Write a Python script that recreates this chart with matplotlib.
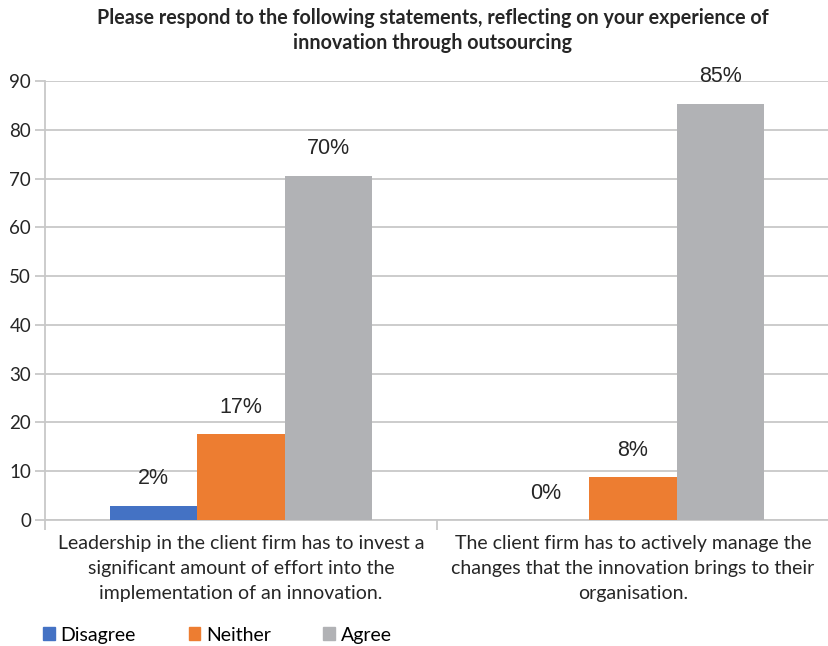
import matplotlib.pyplot as plt
import numpy as np
from matplotlib.patches import Patch

categories = [
    "Leadership in the client firm has to invest a\nsignificant amount of effort into the\nimplementation of an innovation.",
    "The client firm has to actively manage the\nchanges that the innovation brings to their\norganisation.",
]
series_names = ["Disagree", "Neither", "Agree"]
disagree = [2.9, 0.0]
neither = [17.6, 8.8]
agree = [70.6, 85.3]
yticks = [0, 10, 20, 30, 40, 50, 60, 70, 80, 90]

colors = ["#4472C4", "#ED7D31", "#B1B2B5"]
body_font = "Lato"
label_font = "Liberation Sans"

fig = plt.figure(figsize=(8.29, 6.46), dpi=100)
ax = fig.add_axes([45 / 829, 0.195, 784 / 829, 0.6796])

x = np.arange(len(categories))
width = 0.223
for i, (name, vals) in enumerate(zip(series_names, [disagree, neither, agree])):
    pos = x + (i - 1) * width
    ax.bar(pos, vals, width, color=colors[i], zorder=3, label=name)
    # value labels sit a fixed distance above each bar
    for px, v in zip(pos, vals):
        ax.annotate(f"{int(v)}%", (px, v), xytext=(0, 27), textcoords="offset pixels",
                    ha="center", va="center", fontsize=15.5, family=label_font, color="#262626")

ax.set_xlim(-0.5, 1.5)
ax.set_ylim(0, 90)
ax.set_yticks(yticks)
ax.set_yticklabels([str(t) for t in yticks], family=body_font, fontsize=13.5, color="#262626")
ax.grid(axis="y", color="#c8c8c8", lw=1.3, zorder=0)
ax.tick_params(axis="y", length=7, color="#c8c8c8", width=1.3, pad=3)

ax.set_xticks(x)
ax.set_xticklabels(categories, family=body_font, fontsize=14, color="#262626", linespacing=1.55)
ax.set_xticks([-0.5, 0.5, 1.5], minor=True)
ax.tick_params(axis="x", which="major", length=0, pad=11)
ax.tick_params(axis="x", which="minor", length=7, color="#c8c8c8", width=1.3)

for s in ["top", "right"]:
    ax.spines[s].set_visible(False)
for s in ["left", "bottom"]:
    ax.spines[s].set_color("#c8c8c8")
    ax.spines[s].set_linewidth(1.3)

fig.text(0.522, 0.988, "Please respond to the following statements, reflecting on your experience of\ninnovation through outsourcing",
         ha="center", va="top", family=body_font, fontweight="bold", fontsize=14.2, color="#262626", linespacing=1.3)

handles = [Patch(color=c) for c in colors]
fig.legend(handles, series_names, loc="center left", bbox_to_anchor=(0.031, 0.017), ncol=3, frameon=False,
           handlelength=0.6, handleheight=0.6, handletextpad=0.3, columnspacing=2.7,
           prop={"family": body_font, "size": 14})

fig.savefig("out.png", dpi=100)
